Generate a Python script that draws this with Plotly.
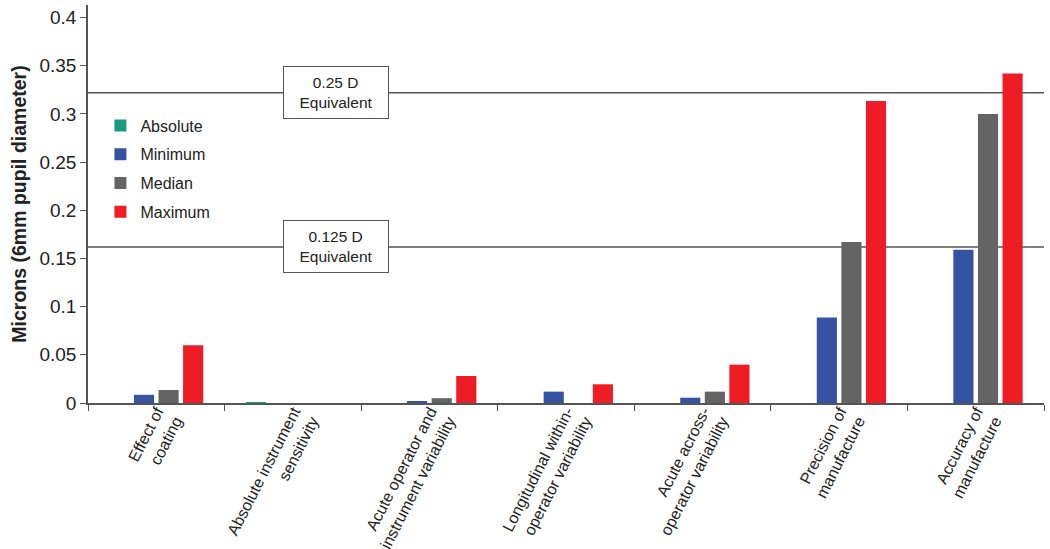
import plotly.graph_objects as go

# categories (x axis, two-line labels)
categories = [
    "Effect of<br>coating",
    "Absolute instrument<br>sensitivity",
    "Acute operator and<br>instrument variability",
    "Longitudinal within-<br>operator variability",
    "Acute across-<br>operator variability",
    "Precision of<br>manufacture",
    "Accuracy of<br>manufacture",
]

# series values (microns); None = no bar
absolute = [None, 0.001, None, None, None, None, None]
minimum = [0.0085, None, 0.002, 0.0118, 0.0055, 0.0886, 0.159]
median = [0.0135, None, 0.005, None, 0.0118, 0.167, 0.30]
maximum = [0.06, None, 0.028, 0.0194, 0.0398, 0.3135, 0.342]

# reference lines
ref_values = [0.322, 0.162]
ref_labels = ["0.25 D<br>Equivalent", "0.125 D<br>Equivalent"]

FONT = "Arial, Liberation Sans, sans-serif"

series = [
    ("Absolute", absolute, "#1b9a7c"),
    ("Minimum", minimum, "#3652a3"),
    ("Median", median, "#636463"),
    ("Maximum", maximum, "#ee1c25"),
]

fig = go.Figure()
for i, (name, vals, color) in enumerate(series):
    fig.add_trace(go.Bar(
        x=categories, y=vals, name=name,
        marker=dict(color=color, line=dict(width=0)),
        legendgroup=f"g{i}",
    ))

for val, label in zip(ref_values, ref_labels):
    fig.add_shape(type="line", xref="paper", yref="y", x0=0, x1=1, y0=val, y1=val,
                  line=dict(color="#555555", width=1.5), layer="below")
    fig.add_annotation(xref="paper", yref="y", x=0.259, y=val, xanchor="center",
                       text=label, showarrow=False, bgcolor="white",
                       bordercolor="#555555", borderwidth=1, borderpad=3,
                       width=98, height=45,
                       font=dict(family=FONT, size=15.5, color="#222222"))

fig.update_layout(
    width=1050, height=549,
    margin=dict(l=88, r=6, t=5, b=146),
    paper_bgcolor="white", plot_bgcolor="white",
    font=dict(family=FONT, color="#222222"),
    barmode="group", bargap=0.28, bargroupgap=0.18,
    showlegend=True,
    legend=dict(x=0.013, y=0.74, xanchor="left", yanchor="top",
                font=dict(family=FONT, size=16), bgcolor="rgba(0,0,0,0)",
                traceorder="grouped", tracegroupgap=5, itemwidth=30),
)

fig.update_yaxes(
    range=[0, 0.413], tickvals=[0, 0.05, 0.1, 0.15, 0.2, 0.25, 0.3, 0.35, 0.4],
    ticktext=["0", "0.05", "0.1", "0.15", "0.2", "0.25", "0.3", "0.35", "0.4"],
    showgrid=False, zeroline=False, showline=True, linecolor="#555555", linewidth=1.5,
    ticks="outside", ticklen=6, tickcolor="#555555", automargin=False,
    tickfont=dict(family=FONT, size=19, color="#222222"),
    title=dict(text="<b>Microns (6mm pupil diameter)</b>",
               font=dict(family=FONT, size=19.5, color="#222222"), standoff=8),
)
fig.update_xaxes(
    showgrid=False, showline=True, linecolor="#555555", linewidth=1.5,
    ticks="outside", ticklen=6, tickcolor="#555555", tickson="boundaries",
    automargin=False, ticklabelstandoff=-4, ticklabelshift=10,
    tickangle=-63, tickfont=dict(family=FONT, size=16, color="#222222"),
)

# drop the browser's default body margin so the figure sits at the page corner
fig.write_html("out.html", config={"displayModeBar": False},
               post_script="document.body.style.margin='0';")
